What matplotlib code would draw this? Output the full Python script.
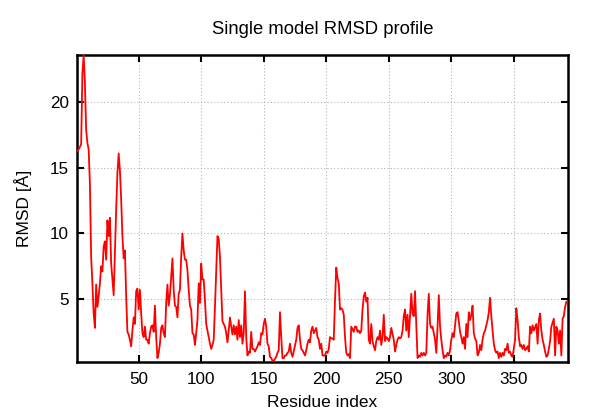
import matplotlib
matplotlib.use("Agg")
import matplotlib.pyplot as plt

residues = [
    1, 2, 3, 4, 5, 6, 7, 8, 9, 10, 11, 12, 13, 14, 15, 16, 17, 18, 19, 20,
    21, 22, 23, 24, 25, 26, 27, 28, 29, 30, 31, 32, 33, 34, 35, 36, 37, 38, 39, 40,
    41, 42, 43, 44, 45, 46, 47, 48, 49, 50, 51, 52, 53, 54, 55, 56, 57, 58, 59, 60,
    61, 62, 63, 64, 65, 66, 67, 68, 69, 70, 71, 72, 73, 74, 75, 76, 77, 78, 79, 80,
    81, 82, 83, 84, 85, 86, 87, 88, 89, 90, 91, 92, 93, 94, 95, 96, 97, 98, 99, 100,
    101, 102, 103, 104, 106, 107, 108, 109, 110, 111, 112, 113, 114, 115, 116, 117, 118, 119, 120,
    121, 122, 123, 124, 125, 126, 127, 128, 129, 130, 131, 132, 133, 134, 135, 136, 137, 138, 139, 140,
    141, 142, 143, 145, 146, 147, 148, 149, 150, 151, 152, 153, 154, 155, 156, 157, 158, 160,
    161, 162, 163, 164, 165, 166, 167, 168, 169, 170, 171, 172, 173, 174, 176, 177, 178, 179, 180,
    181, 182, 183, 184, 185, 186, 187, 188, 189, 190, 192, 193, 194, 195, 196, 197, 199, 200,
    201, 202, 203, 204, 205, 206, 207, 208, 209, 210, 211, 212, 213, 214, 215, 216, 217, 218, 219, 220,
    222, 223, 224, 225, 226, 227, 228, 229, 230, 231, 232, 233, 234, 235, 236, 237, 238, 239, 240,
    241, 242, 243, 244, 245, 246, 247, 248, 249, 250, 251, 252, 254, 255, 256, 257, 258, 259, 260,
    261, 262, 263, 264, 265, 266, 267, 268, 269, 270, 271, 272, 273, 274, 275, 276, 277, 278, 279, 280,
    281, 282, 283, 284, 285, 286, 287, 288, 289, 290, 291, 292, 293, 294, 295, 296, 297, 298, 299, 300,
    301, 302, 304, 305, 306, 307, 308, 309, 310, 311, 312, 313, 314, 315, 316, 317, 318, 319, 320,
    321, 322, 323, 324, 325, 326, 327, 329, 330, 331, 332, 333, 334, 335, 336, 337, 338, 339, 340,
    341, 342, 343, 344, 345, 346, 347, 348, 349, 351, 352, 353, 354, 355, 356, 357, 358, 359, 360,
    361, 362, 363, 364, 365, 366, 368, 369, 370, 371, 372, 373, 374, 375, 376, 377, 378, 379, 380,
    382, 383, 384, 385, 386, 387, 388, 389, 390, 391, 392, 393,
]

rmsd = [
    16.3, 16.4, 16.6, 16.8, 22.2, 23.6, 21.5, 17.9, 16.9, 16.4, 13.8, 8.2, 6.2, 3.9, 2.8, 6.1, 4.4, 5.2, 6.2, 7.5,
    7.1, 9.0, 9.4, 8.0, 11.0, 9.8, 11.2, 7.7, 6.5, 5.3, 8.7, 11.8, 14.6, 16.1, 14.8, 12.6, 9.8, 8.1, 8.7, 5.2,
    2.5, 2.3, 1.9, 1.4, 2.6, 3.6, 3.1, 5.6, 5.8, 4.2, 5.7, 3.9, 2.4, 2.1, 2.9, 1.9, 1.9, 1.6, 2.4, 2.9,
    3.0, 2.5, 4.5, 2.1, 0.5, 0.9, 1.6, 2.8, 3.0, 2.4, 2.1, 4.7, 6.1, 4.5, 5.3, 6.7, 8.1, 5.7, 4.5, 4.4,
    3.6, 5.4, 5.7, 8.2, 10.0, 8.7, 8.0, 8.0, 7.2, 5.7, 4.5, 4.2, 2.4, 2.3, 1.5, 2.4, 3.4, 6.2, 4.7, 7.7,
    6.5, 6.5, 4.9, 3.1, 2.1, 1.6, 1.2, 1.5, 1.9, 4.4, 7.2, 9.8, 9.6, 8.2, 5.7, 3.3, 3.1, 2.9, 2.4,
    1.7, 2.6, 3.6, 2.9, 2.3, 3.0, 2.3, 2.9, 1.9, 3.4, 2.1, 3.0, 1.6, 2.4, 5.6, 2.1, 0.7, 1.0, 0.9, 2.5,
    1.2, 1.2, 1.0, 1.4, 1.7, 1.5, 2.4, 2.3, 3.1, 3.5, 2.9, 1.6, 1.4, 0.6, 0.5, 0.3, 0.3, 0.6,
    0.9, 1.1, 4.0, 2.1, 0.5, 0.5, 0.7, 0.7, 0.9, 1.0, 1.6, 0.9, 0.6, 1.0, 1.9, 2.8, 3.0, 1.9, 1.2,
    1.1, 0.9, 0.7, 1.1, 1.6, 1.9, 1.7, 2.6, 2.9, 2.4, 2.8, 2.1, 1.9, 1.2, 1.6, 0.7, 0.7, 1.0,
    0.9, 1.2, 2.1, 2.0, 2.0, 1.9, 4.9, 7.4, 6.6, 6.2, 4.2, 4.3, 4.2, 3.8, 2.1, 0.9, 0.7, 0.8, 0.5, 2.9,
    2.5, 2.9, 2.9, 2.5, 2.6, 2.4, 2.6, 4.2, 5.2, 5.5, 4.8, 5.1, 1.9, 1.6, 3.1, 1.8, 1.4, 1.1, 1.8,
    2.1, 1.9, 2.6, 1.5, 2.1, 3.8, 1.8, 2.1, 2.0, 1.8, 2.1, 2.8, 1.9, 1.0, 1.5, 1.9, 2.1, 2.0, 2.1,
    2.6, 3.7, 4.2, 2.6, 3.8, 2.1, 3.7, 5.4, 3.9, 3.7, 5.6, 3.1, 0.5, 0.7, 0.6, 0.9, 0.7, 0.9, 0.7, 0.9,
    3.8, 5.4, 3.1, 2.8, 2.9, 2.4, 1.9, 0.9, 2.9, 5.3, 2.9, 1.9, 1.1, 0.5, 0.7, 0.6, 0.9, 0.7, 1.1, 1.9,
    2.4, 2.1, 3.9, 4.0, 3.3, 2.5, 2.1, 1.6, 2.1, 1.2, 3.1, 2.1, 4.0, 3.4, 3.8, 4.5, 2.4, 2.0, 1.8,
    0.7, 0.9, 1.5, 1.1, 1.9, 2.4, 2.6, 3.4, 4.0, 5.1, 3.7, 2.6, 1.6, 1.1, 0.9, 1.0, 0.5, 0.9, 0.6,
    0.9, 0.7, 1.2, 1.1, 1.6, 0.9, 1.0, 0.7, 0.6, 1.9, 4.3, 3.4, 2.1, 1.4, 1.5, 1.2, 1.5, 1.1, 1.2,
    1.4, 1.0, 2.9, 2.4, 3.0, 2.6, 3.1, 1.6, 3.4, 3.9, 2.6, 1.9, 1.5, 1.0, 0.6, 0.7, 1.2, 1.8, 2.9,
    3.5, 0.7, 2.9, 2.6, 1.6, 2.6, 0.7, 3.5, 3.7, 4.4, 4.8, 4.8,
]

x_ticks = [50, 100, 150, 200, 250, 300, 350]
y_ticks = [5, 10, 15, 20]

plt.rcParams['font.family'] = ['Liberation Sans', 'DejaVu Sans']

fig = plt.figure(figsize=(6.0, 4.2), dpi=100)
ax = fig.add_axes([0.129, 0.138, 0.817, 0.731])

ax.plot(residues, rmsd, color='#ff0000', linewidth=1.3, zorder=3)

ax.set_xlim(min(residues), max(residues))
ax.set_ylim(0.2, max(rmsd))
ax.set_xticks(x_ticks)
ax.set_yticks(y_ticks)

ax.grid(True, color='#b4b4b4', linestyle=(0, (1, 2)), linewidth=0.8, zorder=0)
for s in ax.spines.values():
    s.set_linewidth(1.8)
    s.set_color('black')

ax.tick_params(axis='both', which='major', direction='in', length=5, width=1.5,
               top=True, right=True, labelsize=12.3, colors='black')
ax.tick_params(axis='x', pad=7)
ax.tick_params(axis='y', pad=6)

ax.set_xlabel('Residue index', fontsize=12.5, labelpad=6)
ax.set_ylabel('RMSD [Å]', fontsize=12.5, labelpad=13)
ax.set_title('Single model RMSD profile', fontsize=13.3, pad=15)

fig.savefig('out.png', dpi=100)
